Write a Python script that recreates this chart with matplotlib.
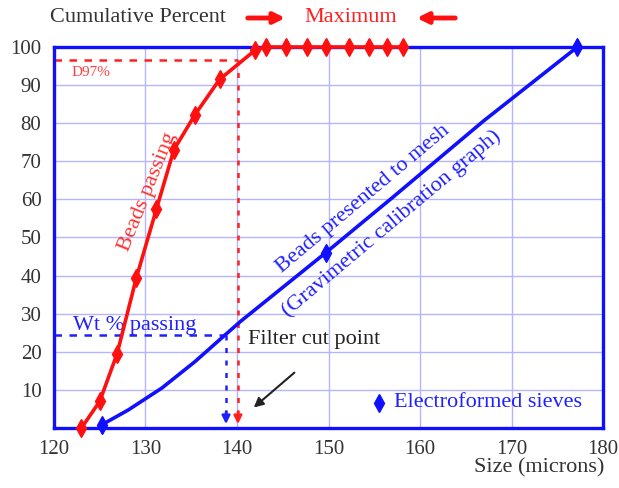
import matplotlib.pyplot as plt

# beads passing (red)
red_x = [123.0, 125.0, 126.9, 129.0, 131.2, 133.1, 135.4, 138.1, 142.0, 143.2,
         145.4, 147.7, 149.7, 152.2, 154.4, 156.4, 158.1]
red_y = [0, 7.0, 19.5, 39.4, 57.5, 73.0, 82.2, 91.5, 99.2, 100,
         100, 100, 100, 100, 100, 100, 100]

# beads presented to mesh (blue), gravimetric calibration line
blue_x = [125.2, 128.1, 131.8, 135.4, 138.5, 140.4, 149.7, 157.0, 166.9, 177.2]
blue_y = [0.8, 4.7, 10.5, 17.4, 24.0, 28.0, 46.0, 60.5, 80.5, 100]
blue_mx = [125.2, 149.7, 177.2]
blue_my = [0.8, 46.0, 100]

d97_x, d97_y = 140.1, 96.5
cut_x, cut_y = 138.8, 24.5

x_ticks = [120, 130, 140, 150, 160, 170, 180]
y_ticks = [10, 20, 30, 40, 50, 60, 70, 80, 90, 100]

plt.rcParams['font.family'] = ['Liberation Serif', 'DejaVu Serif']

fig = plt.figure(figsize=(6.19, 4.88), dpi=100)
ax = fig.add_axes([0.0872, 0.123, 0.8870, 0.7807])

ax.set_xlim(120, 180)
ax.set_ylim(0, 100)
ax.set_xticks(x_ticks)
ax.set_yticks(y_ticks)
ax.tick_params(length=0, labelsize=15, pad=9, colors='#333333')
ax.grid(True, color='#b4b4ff', linewidth=1.0)
ax.set_axisbelow(True)
for s in ax.spines.values():
    s.set_color('#1010ff')
    s.set_linewidth(2.4)

# dashed guide lines
ax.plot([120, d97_x], [d97_y, d97_y], color='#ff2020', ls=(0, (3, 3)), lw=1.8)
ax.plot([d97_x, d97_x], [d97_y, 4], color='#ff2020', ls=(0, (2, 3)), lw=1.8)
ax.annotate('', xy=(d97_x, 0.3), xytext=(d97_x, 5),
            arrowprops=dict(arrowstyle='-|>', color='#ff2020', lw=1.8, mutation_scale=12))
ax.plot([120, cut_x], [cut_y, cut_y], color='#2020ff', ls=(0, (3, 3)), lw=1.8)
ax.plot([cut_x, cut_x], [cut_y, 4], color='#2020ff', ls=(0, (2, 3)), lw=1.8)
ax.annotate('', xy=(cut_x, 0.3), xytext=(cut_x, 5),
            arrowprops=dict(arrowstyle='-|>', color='#2020ff', lw=1.8, mutation_scale=12))

# curves
ax.plot(red_x, red_y, color='#ff1010', lw=2.6, marker='d', ms=9,
        clip_on=False, zorder=4)
ax.plot(blue_x, blue_y, color='#1010ff', lw=2.6, clip_on=False, zorder=3)
ax.plot(blue_mx, blue_my, ls='none', color='#1010ff', marker='d', ms=9,
        clip_on=False, zorder=3)

# labels inside the plot
ax.text(121.9, 93.4, 'D97%', color='#ff4040', fontsize=11, va='center')
ax.text(122.1, 27.0, 'Wt % passing', color='#2020ff', fontsize=16, va='center')
ax.text(141.2, 23.1, 'Filter cut point', color='#222222', fontsize=16, va='center')
ax.annotate('', xy=(141.6, 4.9), xytext=(146.5, 15.0),
            arrowprops=dict(arrowstyle='-|>', color='#222222', lw=1.5, mutation_scale=14))
ax.plot([155.5], [6.6], ls='none', marker='d', ms=9, color='#1010ff')
ax.text(157.2, 6.6, 'Electroformed sieves', color='#2020ff', fontsize=16, va='center')
ax.text(130.3, 62.0, 'Beads passing', color='#ff3030', fontsize=16,
        rotation=68, ha='center', va='center')
ax.text(153.8, 60.0, 'Beads presented to mesh', color='#2020ff', fontsize=16,
        rotation=40, ha='center', va='center')
ax.text(156.9, 53.7, '(Gravimetric calibration graph)', color='#2020ff', fontsize=16,
        rotation=40, ha='center', va='center')

# header line above the axes
fig.text(50 / 619, 1 - 18 / 488, 'Cumulative Percent', color='#333333',
         fontsize=16, va='center')
fig.text(351 / 619, 1 - 18 / 488, 'Maximum', color='#ff2020',
         fontsize=16, va='center', ha='center')
ax.annotate('', xy=(288 / 619, 1 - 18 / 488), xytext=(245 / 619, 1 - 18 / 488),
            xycoords='figure fraction', textcoords='figure fraction',
            arrowprops=dict(arrowstyle='-|>', color='#ff1010', lw=3.5, mutation_scale=16))
ax.annotate('', xy=(414 / 619, 1 - 18 / 488), xytext=(458 / 619, 1 - 18 / 488),
            xycoords='figure fraction', textcoords='figure fraction',
            arrowprops=dict(arrowstyle='-|>', color='#ff1010', lw=3.5, mutation_scale=16))

fig.text(604 / 619, 1 - 468 / 488, 'Size (microns)', color='#333333',
         fontsize=16, va='center', ha='right')

fig.savefig('out.png', dpi=100)
